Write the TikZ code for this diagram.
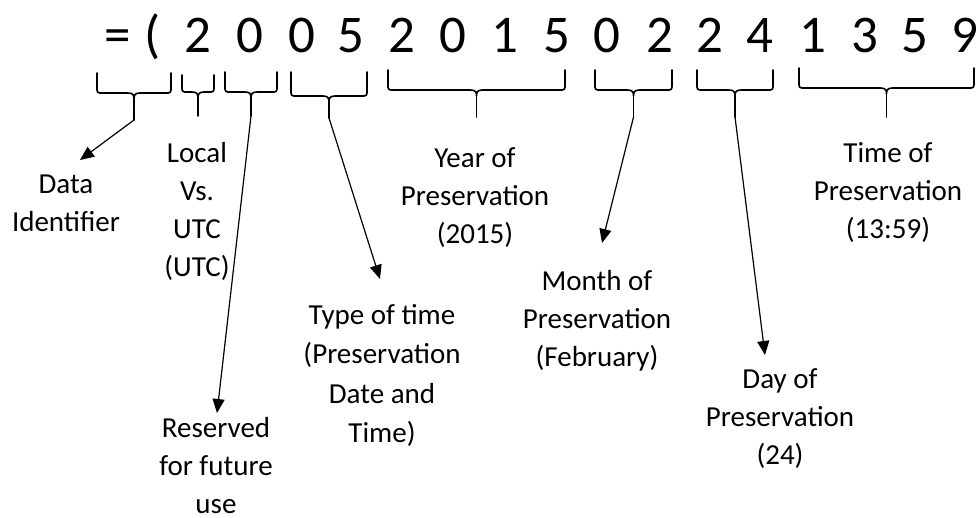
\documentclass[tikz,border=0pt]{standalone}
\usepackage{fontspec}
\setmainfont{Carlito}
\usetikzlibrary{arrows.meta}
\tikzset{
  digit/.style={anchor=base, inner sep=0pt, font=\fontsize{53}{60}\selectfont},
  lbl/.style={anchor=base, inner sep=0pt, text width=190pt, align=flush center, font=\fontsize{29}{38}\selectfont},
  bracestyle/.style={line width=1.6pt, line join=round, line cap=round},
  arr/.style={line width=1.2pt, -{Triangle[length=14pt,width=12pt]}},
}
% #1 name of tip coordinate, #2 x left, #3 x right, #4 top y, #5 bar y, #6 tip y
\newcommand\mybrace[6]{%
  \pgfmathsetmacro\bxm{(#2+#3)/2}%
  \draw[bracestyle] (#2,#4) -- (#2,#5-3) .. controls (#2,#5-1) and (#2+1,#5) .. (#2+3,#5)
    -- (\bxm-6,#5) .. controls (\bxm-1,#5) and (\bxm,#5+2) .. (\bxm,#5+6)
    .. controls (\bxm,#5+2) and (\bxm+1,#5) .. (\bxm+6,#5)
    -- (#3-3,#5) .. controls (#3-1,#5) and (#3,#5-1) .. (#3,#5-3) -- (#3,#4);
  \draw[bracestyle] (\bxm,#5+6) -- (\bxm,#6) coordinate (#1);
}
\begin{document}
\begin{tikzpicture}[x=1pt,y=-1pt]
\useasboundingbox (0,0) rectangle (980,517);
% digits
\node[digit] (eq) at (118,52) {=};
\node[digit] (par) at (153,52) {(};
\node[digit] (n1) at (198,52) {2};
\node[digit] (n2) at (250,52) {0};
\node[digit] (n3) at (302,52) {0};
\node[digit] (n4) at (351,52) {5};
\node[digit] (n5) at (402,52) {2};
\node[digit] (n6) at (453,52) {0};
\node[digit] (n7) at (505,52) {1};
\node[digit] (n8) at (557,52) {5};
\node[digit] (n9) at (607,52) {0};
\node[digit] (n10) at (660,52) {2};
\node[digit] (n11) at (710,52) {2};
\node[digit] (n12) at (760,52) {4};
\node[digit] (n13) at (813,52) {1};
\node[digit] (n14) at (865,52) {3};
\node[digit] (n15) at (915,52) {5};
\node[digit] (n16) at (965,52) {9};
% braces
\mybrace{b1}{97}{171}{73}{93}{120}
\mybrace{b2}{182}{214}{75}{92}{116}
\mybrace{b3}{225}{277}{72}{92}{116}
\mybrace{b4}{291}{367}{72}{96}{118}
\mybrace{b5}{388}{565}{70}{90}{117}
\mybrace{b6}{595}{672}{70}{90}{117}
\mybrace{b7}{697}{773}{70}{90}{117}
\mybrace{b8}{799}{974}{68}{88}{117}
% labels
\node[lbl] (data) at (66,193) {Data\\Identifier};
\node[lbl] (local) at (197,162) {Local\\Vs.\\UTC\\(UTC)};
\node[lbl] (reserved) at (216,437) {Reserved\\for future\\use};
\node[lbl, font=\fontsize{29}{39.5}\selectfont] (type) at (382,324) {Type of time\\(Preservation\\Date and\\Time)};
\node[lbl] (year) at (475,167) {Year of\\Preservation\\(2015)};
\node[lbl] (month) at (597,290) {Month of\\Preservation\\(February)};
\node[lbl] (day) at (780,388) {Day of\\Preservation\\(24)};
\node[lbl] (time) at (888,162) {Time of\\Preservation\\(13:59)};
% arrow ends
\coordinate (dataend) at (80,160);
\coordinate (resend) at (217,413);
\coordinate (typeend) at (380,279);
\coordinate (monthend) at (602,243);
\coordinate (dayend) at (765,355);
\draw[arr] (b1) -- (dataend);
\draw[arr] (b3) -- (resend);
\draw[arr] (b4) -- (typeend);
\draw[arr] (b6) -- (monthend);
\draw[arr] (b7) -- (dayend);
\end{tikzpicture}
\end{document}
